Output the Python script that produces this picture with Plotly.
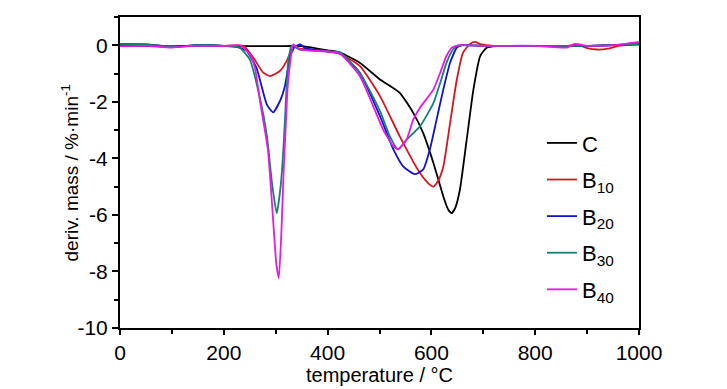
import plotly.graph_objects as go

# ---- data ----
temp_C = [0, 50, 100, 150, 200, 250, 300, 350, 400, 424, 462, 501, 539, 565, 584, 604, 623, 632, 639, 646, 655, 668, 681, 694, 707, 725, 800, 900, 1000]
dtg_C = [-0.02, -0.02, -0.04, -0.01, -0.02, -0.03, -0.03, -0.03, -0.18, -0.26, -0.62, -1.21, -1.68, -2.39, -3.1, -4.17, -5.35, -5.8, -5.94, -5.75, -5.1, -3.34, -1.56, -0.38, -0.08, -0.03, -0.02, -0.02, 0.03]

temp_B10 = [0, 50, 100, 150, 200, 238, 257, 276, 289, 308, 321, 331, 336, 345, 400, 424, 462, 501, 539, 578, 595, 604, 613, 623, 636, 649, 661, 674, 684, 694, 720, 800, 860, 880, 900, 920, 940, 960, 1000]
dtg_B10 = [0.03, 0.02, -0.04, 0.0, -0.02, -0.02, -0.44, -0.97, -1.09, -0.91, -0.56, -0.14, -0.02, -0.12, -0.2, -0.3, -0.73, -1.8, -3.22, -4.52, -4.9, -5.0, -4.8, -4.29, -2.75, -1.21, -0.26, 0.04, 0.12, 0.04, -0.02, -0.02, -0.03, 0.03, -0.1, -0.15, -0.12, -0.02, 0.06]

temp_B20 = [0, 50, 100, 150, 200, 230, 244, 263, 283, 295, 308, 318, 328, 337, 347, 357, 400, 424, 462, 501, 527, 546, 568, 584, 597, 610, 623, 636, 649, 658, 700, 800, 900, 1000]
dtg_B20 = [0.05, 0.03, -0.05, 0.0, -0.02, -0.08, -0.2, -0.8, -2.1, -2.37, -1.98, -1.42, -0.38, -0.05, 0.03, -0.1, -0.22, -0.3, -0.97, -2.51, -3.69, -4.29, -4.56, -4.4, -3.69, -2.63, -1.56, -0.62, -0.08, 0.0, -0.02, -0.02, -0.02, 0.03]

temp_B30 = [0, 50, 100, 150, 200, 230, 250, 270, 283, 293, 302, 310, 315, 319, 324, 331, 345, 400, 424, 462, 501, 520, 536, 552, 578, 604, 617, 629, 642, 652, 700, 800, 900, 1000]
dtg_B30 = [0.05, 0.03, -0.06, 0.0, -0.02, -0.08, -0.5, -1.9, -3.2, -4.9, -5.94, -4.9, -3.6, -2.2, -0.6, 0.0, -0.15, -0.22, -0.25, -0.97, -2.33, -3.22, -3.69, -3.34, -2.87, -2.04, -1.33, -0.62, -0.14, 0.0, -0.02, -0.02, -0.02, 0.04]

temp_B40 = [0, 50, 100, 150, 200, 231, 250, 260, 270, 285, 294, 301, 306, 311, 315, 319, 323, 328, 334, 347, 400, 424, 462, 488, 507, 527, 536, 552, 565, 578, 604, 617, 629, 640, 652, 700, 800, 861, 876, 900, 950, 1000]
dtg_B40 = [-0.03, -0.02, -0.08, -0.01, -0.03, 0.0, -0.32, -0.8, -2.0, -3.7, -5.9, -7.7, -8.24, -6.6, -4.6, -3.0, -1.5, -0.6, 0.03, -0.15, -0.22, -0.3, -1.09, -2.16, -2.98, -3.58, -3.67, -3.34, -2.63, -2.21, -1.56, -0.97, -0.38, -0.08, 0.0, -0.02, -0.02, -0.08, 0.05, -0.02, 0.0, 0.12]

series_names = ["C", "B<sub>10</sub>", "B<sub>20</sub>", "B<sub>30</sub>", "B<sub>40</sub>"]
series_x = [temp_C, temp_B10, temp_B20, temp_B30, temp_B40]
series_y = [dtg_C, dtg_B10, dtg_B20, dtg_B30, dtg_B40]
colors = ["#000000", "#d8141e", "#1212cc", "#128274", "#e818e8"]

x_ticks = [0, 200, 400, 600, 800, 1000]
y_ticks = [0, -2, -4, -6, -8, -10]
x_title = "temperature / °C"
y_title = "deriv. mass / %·min<sup>-1</sup>"

FONT = "Liberation Sans, Arial, sans-serif"

fig = go.Figure()
for i, (name, xs, ys, c) in enumerate(zip(series_names, series_x, series_y, colors)):
    fig.add_trace(go.Scatter(x=xs, y=ys, name=name, mode="lines", legendgroup=f"g{i}",
                             line=dict(color=c, width=1.8, shape="spline", smoothing=0.5)))

fig.update_layout(
    width=727, height=389,
    margin=dict(l=112, r=96, t=9, b=69, autoexpand=False),
    paper_bgcolor="white", plot_bgcolor="white",
    font=dict(family=FONT, size=21, color="black"),
    showlegend=True,
    legend=dict(x=0.813, y=0.662, xanchor="left", yanchor="top",
                bgcolor="rgba(0,0,0,0)", borderwidth=0, itemwidth=30,
                tracegroupgap=5,
                font=dict(family=FONT, size=22, color="black")),
    annotations=[
        dict(text=x_title, xref="paper", yref="paper", x=0.5, y=-0.151,
             xanchor="center", yanchor="middle", showarrow=False,
             font=dict(family=FONT, size=20, color="black")),
        dict(text=y_title, xref="paper", yref="paper", x=-0.0963, y=0.497,
             xanchor="center", yanchor="middle", textangle=-90, showarrow=False,
             font=dict(family=FONT, size=19, color="black")),
    ],
)
fig.update_xaxes(range=[0, 1000], tickvals=x_ticks, ticktext=[str(v) for v in x_ticks],
                 automargin=False,
                 ticks="outside", ticklen=5, tickwidth=1.5, tickcolor="black",
                 minor=dict(dtick=100, ticks="outside", ticklen=4, tickwidth=1.5, tickcolor="black"),
                 showline=True, linewidth=2, linecolor="black", mirror=True,
                 showgrid=False, zeroline=False)
fig.update_yaxes(range=[-10, 1], tickvals=y_ticks, ticktext=[str(v) for v in y_ticks],
                 automargin=False,
                 ticks="outside", ticklen=6, tickwidth=1.5, tickcolor="black",
                 minor=dict(dtick=1, ticks="outside", ticklen=4, tickwidth=1.5, tickcolor="black"),
                 showline=True, linewidth=2, linecolor="black", mirror=True,
                 showgrid=False, zeroline=False)

fig.write_html("out.html")
